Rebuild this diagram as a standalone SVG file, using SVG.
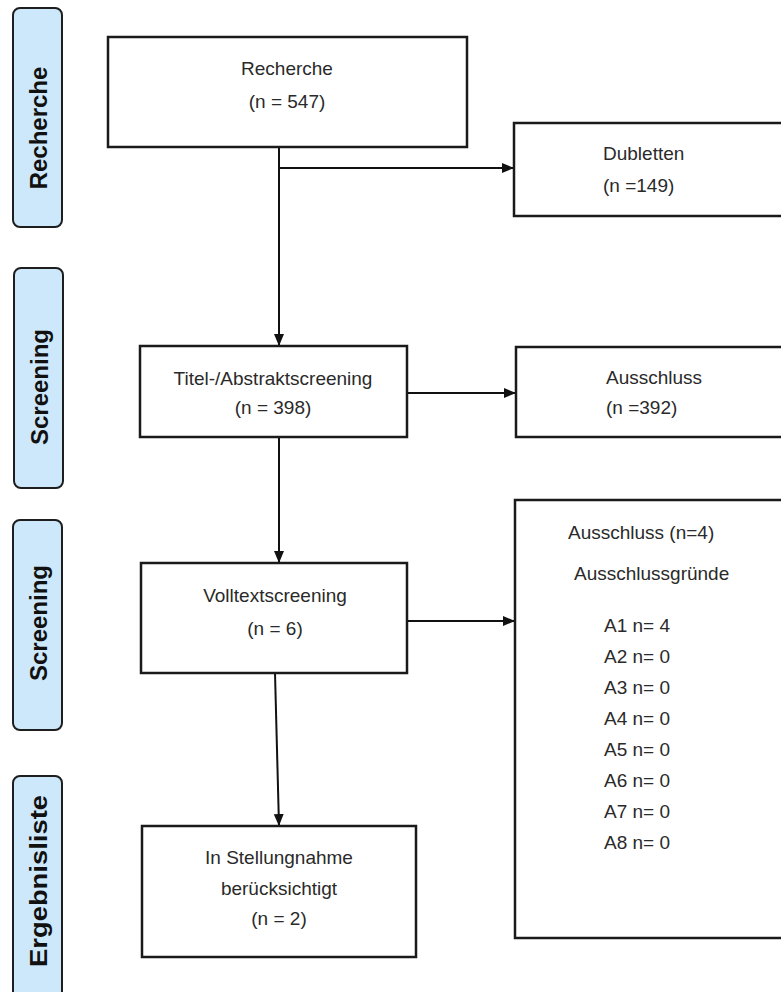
<svg xmlns="http://www.w3.org/2000/svg" width="781" height="992" viewBox="0 0 781 992">
<style>
.phase{fill:#cde8fb;stroke:#1e1e1e;stroke-width:2}
.pl{font-family:"Liberation Sans",Arial,sans-serif;font-weight:bold;font-size:24px;fill:#111;text-anchor:middle;dominant-baseline:central}
.box{fill:#fff;stroke:#1a1a1a;stroke-width:2.5}
.t{font-family:"Liberation Sans",Arial,sans-serif;font-size:19px;fill:#2a2a2a}
.c{text-anchor:middle}
.edge{stroke:#111;stroke-width:2;fill:none}
</style>
<defs>
<marker id="ah" viewBox="0 0 12 10" refX="12" refY="5" markerWidth="12" markerHeight="10" markerUnits="userSpaceOnUse" orient="auto">
<path d="M0,0 L12,5 L0,10 z" fill="#111"/>
</marker>
</defs>
<rect width="781" height="992" fill="#fff"/>
<g id="phase-recherche"><rect class="phase" x="13" y="8" width="49" height="219" rx="7"/><text class="pl" transform="translate(38,128) rotate(-90)">Recherche</text></g>
<g id="phase-screening1"><rect class="phase" x="14" y="268" width="49" height="220" rx="7"/><text class="pl" transform="translate(39,387) rotate(-90)">Screening</text></g>
<g id="phase-screening2"><rect class="phase" x="13" y="520" width="49" height="210" rx="7"/><text class="pl" transform="translate(38,623) rotate(-90)">Screening</text></g>
<g id="phase-ergebnis"><rect class="phase" x="13" y="776" width="49" height="230" rx="7"/><text class="pl" transform="translate(38,881) rotate(-90)" textLength="172" lengthAdjust="spacingAndGlyphs">Ergebnisliste</text></g>

<g id="connectors">
<path class="edge" d="M279,147 L279,346" marker-end="url(#ah)"/>
<path class="edge" d="M279,168 L514,168" marker-end="url(#ah)"/>
<path class="edge" d="M407,393 L516,393" marker-end="url(#ah)"/>
<path class="edge" d="M279,437 L279,563" marker-end="url(#ah)"/>
<path class="edge" d="M407,621 L515,621" marker-end="url(#ah)"/>
<path class="edge" d="M275,673 L279,826" marker-end="url(#ah)"/>
</g>

<g id="recherche"><rect class="box" x="108" y="37" width="359" height="110"/><text class="t c" x="287" y="75">Recherche</text><text class="t c" x="287" y="108">(n = 547)</text></g>
<g id="dubletten"><rect class="box" x="514" y="123" width="290" height="93"/><text class="t" x="603" y="160">Dubletten</text><text class="t" x="603" y="192">(n =149)</text></g>
<g id="titel"><rect class="box" x="140" y="346" width="267" height="91"/><text class="t c" x="273" y="385">Titel-/Abstraktscreening</text><text class="t c" x="273" y="414">(n = 398)</text></g>
<g id="ausschluss1"><rect class="box" x="516" y="347" width="290" height="90"/><text class="t" x="606" y="384">Ausschluss</text><text class="t" x="606" y="414">(n =392)</text></g>
<g id="volltext"><rect class="box" x="141" y="563" width="266" height="110"/><text class="t c" x="275" y="602">Volltextscreening</text><text class="t c" x="275" y="635">(n = 6)</text></g>
<g id="ausschluss2"><rect class="box" x="515" y="500" width="290" height="438"/>
<text class="t" x="568" y="539">Ausschluss (n=4)</text>
<text class="t" x="574" y="580">Ausschlussgründe</text>
<text class="t" x="604" y="632">A1 n= 4</text>
<text class="t" x="604" y="663">A2 n= 0</text>
<text class="t" x="604" y="694">A3 n= 0</text>
<text class="t" x="604" y="725">A4 n= 0</text>
<text class="t" x="604" y="756">A5 n= 0</text>
<text class="t" x="604" y="787">A6 n= 0</text>
<text class="t" x="604" y="818">A7 n= 0</text>
<text class="t" x="604" y="849">A8 n= 0</text>
</g>
<g id="ergebnis"><rect class="box" x="142" y="826" width="274" height="131"/><text class="t c" x="279" y="864">In Stellungnahme</text><text class="t c" x="279" y="895">berücksichtigt</text><text class="t c" x="279" y="925">(n = 2)</text></g>
</svg>
